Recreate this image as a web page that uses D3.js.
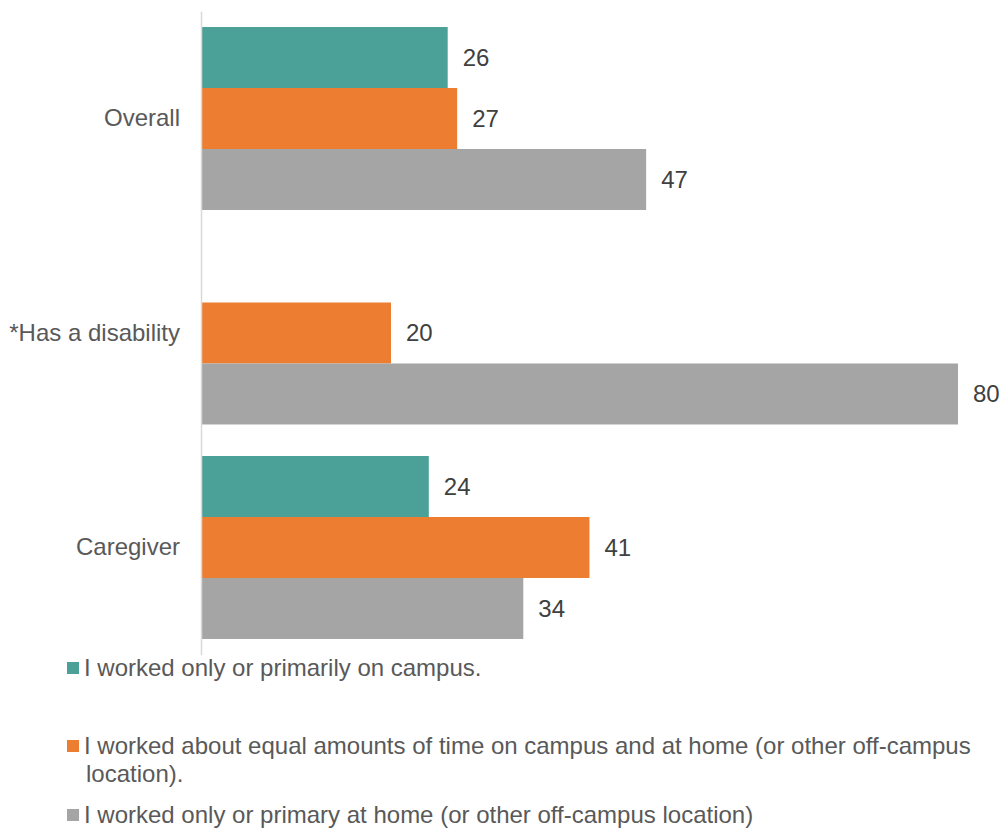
<!DOCTYPE html>
<html>
<head>
<meta charset="utf-8">
<script src="https://cdn.jsdelivr.net/npm/d3@7"></script>
<style>
  html, body { margin: 0; padding: 0; background: #ffffff; }
  svg { display: block; font-family: "Liberation Sans", Arial, sans-serif; }
</style>
</head>
<body>
<svg id="chart" width="1001" height="830"></svg>
<script>
// Groups shown on the vertical axis
const categories = ["Overall", "*Has a disability", "Caregiver"];

// Work location series (percent); null = not reported
const seriesNames = [
  "I worked only or primarily on campus.",
  "I worked about equal amounts of time on campus and at home (or other off-campus location).",
  "I worked only or primary at home (or other off-campus location)"
];
const onCampus = [26, null, 24];
const equalSplit = [27, 20, 41];
const atHome = [47, 80, 34];

// Legend text, split into the lines it is printed on
const legendLines = [
  ["I worked only or primarily on campus."],
  ["I worked about equal amounts of time on campus and at home (or other off-campus", "location)."],
  ["I worked only or primary at home (or other off-campus location)"]
];

const colors = ["#4ba197", "#ed7d31", "#a5a5a5"];
const seriesValues = [onCampus, equalSplit, atHome];
const fontSize = 24;

const svg = d3.select("#chart");

const x = d3.scaleLinear().domain([0, 80]).range([202, 958]);

const y = d3.scaleBand()
  .domain(categories)
  .range([11.25, 654.75])
  .paddingInner(0.147)
  .paddingOuter(0.0735);

const ySub = d3.scaleBand()
  .domain(d3.range(seriesNames.length))
  .range([0, y.bandwidth()]);

// Bars
const groups = svg.append("g")
  .selectAll("g")
  .data(categories)
  .join("g")
  .attr("transform", d => `translate(0,${y(d)})`);

categories.forEach((cat, ci) => {
  const g = groups.filter(d => d === cat);
  const rows = seriesValues.map((vals, si) => ({ si, v: vals[ci] })).filter(d => d.v != null);
  g.selectAll("rect")
    .data(rows)
    .join("rect")
    .attr("x", x(0))
    .attr("y", d => ySub(d.si))
    .attr("width", d => x(d.v) - x(0))
    .attr("height", ySub.bandwidth())
    .attr("fill", d => colors[d.si]);
  g.selectAll("text.val")
    .data(rows)
    .join("text")
    .attr("class", "val")
    .attr("x", d => x(d.v) + 15)
    .attr("y", d => ySub(d.si) + ySub.bandwidth() / 2)
    .attr("dy", "0.35em")
    .attr("font-size", fontSize)
    .attr("fill", "#404040")
    .text(d => d.v);
});

// Category axis
const axis = svg.append("g")
  .attr("transform", `translate(${x(0) - 1},0)`)
  .call(d3.axisLeft(y).tickSize(0).tickPadding(21));
axis.select(".domain").attr("stroke", "#d9d9d9").attr("stroke-width", 1.5);
axis.selectAll("text")
  .attr("font-size", fontSize)
  .attr("fill", "#595959")
  .attr("font-family", "'Liberation Sans', Arial, sans-serif");

// Legend
const legendY = [668, 746, 815];
const legend = svg.append("g");
legendLines.forEach((lines, i) => {
  const g = legend.append("g").attr("transform", `translate(67,${legendY[i]})`);
  g.append("rect")
    .attr("x", 0).attr("y", -6)
    .attr("width", 12).attr("height", 12)
    .attr("fill", colors[i]);
  const t = g.append("text")
    .attr("x", 17)
    .attr("y", 0)
    .attr("font-size", fontSize)
    .attr("fill", "#595959");
  lines.forEach((ln, li) => {
    t.append("tspan")
      .attr("x", li === 0 ? 17 : 19)
      .attr("dy", li === 0 ? "0.35em" : 28)
      .text(ln);
  });
});
</script>
</body>
</html>
